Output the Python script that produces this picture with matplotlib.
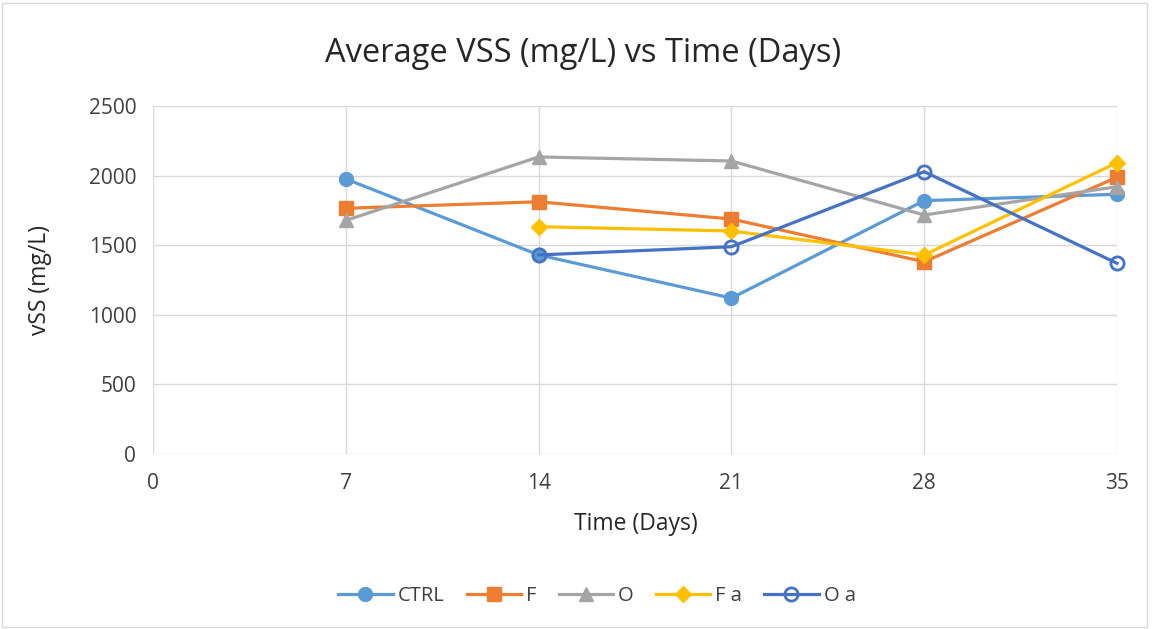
import matplotlib
matplotlib.use("Agg")
import matplotlib.pyplot as plt
from matplotlib.patches import Rectangle

plt.rcParams['font.family'] = ['Open Sans', 'DejaVu Sans']

days = [7, 14, 21, 28, 35]
days_a = [14, 21, 28, 35]
ctrl = [1976, 1430, 1120, 1820, 1866]
f = [1765, 1812, 1688, 1381, 1988]
o = [1678, 2134, 2105, 1717, 1920]
f_a = [1633, 1602, 1430, 2093]
o_a = [1430, 1489, 2028, 1370]
x_ticks = [0, 7, 14, 21, 28, 35]
y_ticks = [0, 500, 1000, 1500, 2000, 2500]

fig = plt.figure(figsize=(11.57, 6.29), dpi=100)
ax = fig.add_axes([153/1157, 1 - 454/629, (1117-153)/1157, (454-106)/629])

lw = 2.3
ax.plot(days, ctrl, color='#5B9BD5', lw=lw, marker='o', ms=10, label='CTRL', zorder=3, clip_on=False)
ax.plot(days, f, color='#ED7D31', lw=lw, marker='s', ms=9.5, label='F', zorder=3, clip_on=False)
ax.plot(days, o, color='#A5A5A5', lw=lw, marker='^', ms=10.5, label='O', zorder=3, clip_on=False)
ax.plot(days_a, f_a, color='#FFC000', lw=lw, marker='D', ms=8.5, label='F a', zorder=3, clip_on=False)
ax.plot(days_a, o_a, color='#4472C4', lw=lw, marker='o', ms=9.5, mfc='none', mew=2,
        label='O a', zorder=3, clip_on=False)

ax.set_xlim(0, 35)
ax.set_ylim(0, 2500)
ax.set_xticks(x_ticks)
ax.set_yticks(y_ticks)
ax.grid(True, color='#D9D9D9', lw=1)
ax.set_axisbelow(True)
for s in ax.spines.values():
    s.set_visible(False)
ax.tick_params(length=0, labelsize=15, colors='#404040')
ax.tick_params(axis='x', pad=14)
ax.tick_params(axis='y', pad=12)

fig.text(636/1157, 1 - 524/629, 'Time (Days)', ha='center', va='center',
         fontsize=16.5, color='#262626')
fig.text(40/1157, 1 - 280/629, 'vSS (mg/L)', ha='center', va='center', rotation=90,
         fontsize=16.5, color='#262626')
fig.text(583/1157, 1 - 54/629, 'Average VSS (mg/L) vs Time (Days)', ha='center', va='center',
         fontsize=23.5, color='#262626')

leg = fig.legend(loc='center', bbox_to_anchor=(597/1157, 1 - 596/629), ncol=5, frameon=False,
                 fontsize=14.5, handlelength=2.7, columnspacing=1.1, handletextpad=0.25)
for t in leg.get_texts():
    t.set_color('#404040')

fig.patches.append(Rectangle((2/1157, 2/629), 1145/1157, 624/629, transform=fig.transFigure,
                             fill=False, edgecolor='#D9D9D9', lw=1))

fig.savefig('out.png', dpi=100)
